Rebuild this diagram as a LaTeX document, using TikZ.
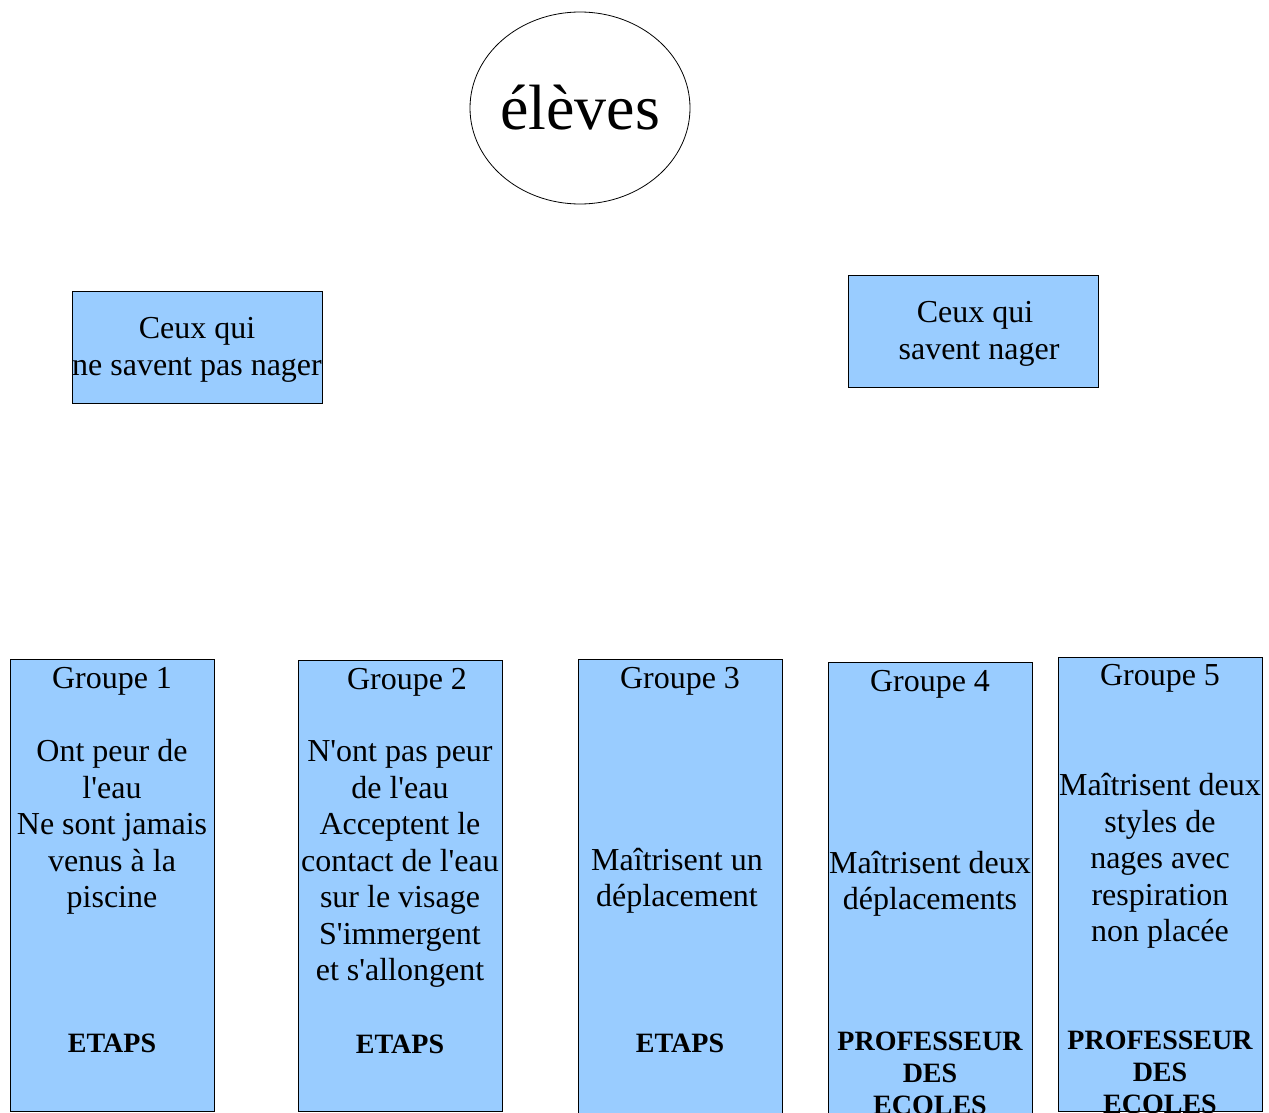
\documentclass[tikz,border=0pt]{standalone}
\usepackage{fontspec}
\setmainfont{Liberation Serif}[Ligatures=TeXOff]
\usetikzlibrary{shapes.geometric}

\newcommand{\boxw}{204pt}
\newcommand{\boxh}{454pt}
\newcommand{\catw}{250pt}
\newcommand{\cath}{112pt}
\definecolor{myblue}{RGB}{153,204,255}

\begin{document}
\begin{tikzpicture}[x=1pt, y=-1pt,
	box/.style={draw=black, line width=0.8pt, fill=myblue, rectangle, inner sep=0pt},
	txt/.style={align=center, inner sep=0pt, font=\fontsize{32}{36.5}\selectfont},
	staff/.style={align=center, inner sep=0pt, font=\fontsize{28}{32}\selectfont\bfseries}]

	% frame
	\clip (0,0) rectangle (1269,1113);

	% top
	\node (eleves) [draw, line width=0.8pt, ellipse, minimum width=220pt, minimum height=192pt,
		font=\fontsize{64}{70}\selectfont] at (580,108) {\makebox[0pt]{élèves}};

	% categories
	\node (nonag) [box, minimum width=\catw, minimum height=\cath] at (197,347) {};
	\node (nag) [box, minimum width=\catw, minimum height=\cath] at (973,331) {};
	\node (nonagt) [txt] at (197,350) {Ceux qui\\ne savent pas nager};
	\node (nagt) [txt] at (975,334) {Ceux qui\\\hspace*{8pt}savent nager};

	% groups
	\node (g1) [box, minimum width=\boxw, minimum height=452pt, anchor=north west] at (10,659) {};
	\node (g2) [box, minimum width=\boxw, minimum height=451pt, anchor=north west] at (298,660) {};
	\node (g3) [box, minimum width=\boxw, minimum height=\boxh, anchor=north west] at (578,659) {};
	\node (g4) [box, minimum width=\boxw, minimum height=\boxh, anchor=north west] at (828,662) {};
	\node (g5) [box, minimum width=\boxw, minimum height=\boxh, anchor=north west] at (1058,657) {};

	% captions
	\node (g1title) [txt] at (112,681) {Groupe 1};
	\node (g1text) [txt] at (112,827) {Ont peur de\\l'eau\\Ne sont jamais\\venus à la\\piscine};
	\node (g1staff) [staff] at (112,1043) {ETAPS};

	\node (g2title) [txt] at (407,682) {Groupe 2};
	\node (g2text) [txt] at (400,864) {N'ont pas peur\\de l'eau\\Acceptent le\\contact de l'eau\\sur le visage\\S'immergent\\et s'allongent};
	\node (g2staff) [staff] at (400,1044) {ETAPS};

	\node (g3title) [txt] at (680,681) {Groupe 3};
	\node (g3text) [txt] at (677,881) {Maîtrisent un\\déplacement};
	\node (g3staff) [staff] at (680,1043) {ETAPS};

	\node (g4title) [txt] at (930,684) {Groupe 4};
	\node (g4text) [txt] at (930,884) {Maîtrisent deux\\déplacements};
	\node (g4staff) [staff] at (930,1073) {PROFESSEUR\\DES\\ECOLES};

	\node (g5title) [txt] at (1160,678) {Groupe 5};
	\node (g5text) [txt] at (1160,861) {Maîtrisent deux\\styles de\\nages avec\\respiration\\non placée};
	\node (g5staff) [staff] at (1160,1072) {PROFESSEUR\\DES\\ECOLES};
\end{tikzpicture}
\end{document}
